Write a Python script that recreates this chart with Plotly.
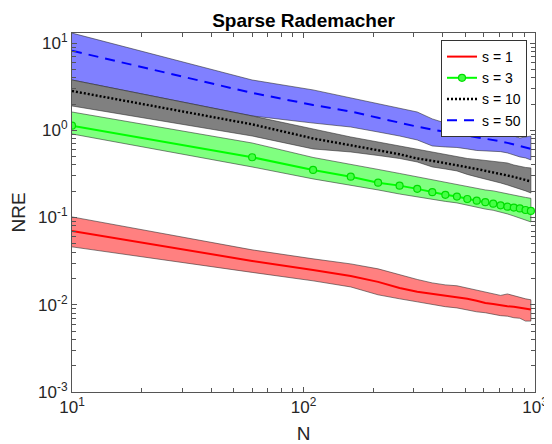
import plotly.graph_objects as go

# ---- data ----
N = [10, 60, 110, 160, 210, 260, 310, 360, 410, 460,
     510, 560, 610, 660, 710, 760, 810, 860, 910, 960]

s1_mean = [0.0702, 0.0318, 0.0251, 0.0214, 0.0183, 0.0156, 0.0141, 0.0133, 0.0127, 0.0123,
           0.0117, 0.0111, 0.0105, 0.0102, 0.0098, 0.0096, 0.0095, 0.0092, 0.0090, 0.0088]
s1_hi = [0.1016, 0.0426, 0.0336, 0.0294, 0.0258, 0.0220, 0.0195, 0.0178, 0.0169, 0.0165,
         0.0156, 0.0148, 0.0141, 0.0133, 0.0128, 0.0133, 0.0127, 0.0120, 0.0117, 0.0114]
s1_lo = [0.0461, 0.0235, 0.0188, 0.0160, 0.0130, 0.0117, 0.0108, 0.0100, 0.0095, 0.0092,
         0.0087, 0.0083, 0.0081, 0.0078, 0.0075, 0.0074, 0.0071, 0.0070, 0.0065, 0.0065]

s3_mean = [1.13, 0.491, 0.351, 0.294, 0.251, 0.232, 0.213, 0.195, 0.182, 0.174,
           0.163, 0.156, 0.150, 0.144, 0.138, 0.133, 0.130, 0.127, 0.122, 0.119]
s3_hi = [1.62, 0.715, 0.488, 0.411, 0.356, 0.320, 0.292, 0.273, 0.256, 0.239,
         0.227, 0.218, 0.207, 0.202, 0.194, 0.184, 0.179, 0.175, 0.170, 0.166]
s3_lo = [0.907, 0.380, 0.277, 0.233, 0.207, 0.186, 0.172, 0.161, 0.153, 0.147,
         0.139, 0.132, 0.125, 0.121, 0.116, 0.110, 0.104, 0.099, 0.094, 0.089]

s10_mean = [2.82, 1.17, 0.806, 0.679, 0.590, 0.531, 0.475, 0.447, 0.422, 0.400,
            0.377, 0.360, 0.345, 0.330, 0.316, 0.303, 0.292, 0.280, 0.271, 0.259]
s10_hi = [3.77, 1.46, 1.035, 0.838, 0.734, 0.661, 0.595, 0.557, 0.521, 0.495,
          0.475, 0.463, 0.451, 0.439, 0.433, 0.422, 0.400, 0.385, 0.375, 0.370]
s10_lo = [1.90, 0.860, 0.611, 0.564, 0.514, 0.475, 0.433, 0.380, 0.360, 0.342,
          0.312, 0.292, 0.277, 0.263, 0.249, 0.236, 0.224, 0.213, 0.202, 0.191]

s50_mean = [8.16, 2.68, 1.95, 1.64, 1.39, 1.21, 1.10, 1.02, 0.964, 0.909,
            0.865, 0.829, 0.799, 0.772, 0.746, 0.717, 0.684, 0.657, 0.635, 0.611]
s50_hi = [13.0, 3.77, 2.90, 2.34, 2.00, 1.80, 1.62, 1.35, 1.21, 1.15,
          1.09, 1.06, 1.02, 0.995, 0.982, 0.944, 0.860, 0.816, 0.838, 0.860]
s50_lo = [3.77, 1.46, 1.21, 1.09, 0.956, 0.860, 0.774, 0.661, 0.644, 0.635,
          0.611, 0.587, 0.579, 0.572, 0.569, 0.550, 0.521, 0.495, 0.482, 0.457]

series_names = ["s = 1", "s = 3", "s = 10", "s = 50"]

x_tickvals = [10, 100, 1000]
x_ticktext = ["10<sup>1</sup>", "10<sup>2</sup>", "10<sup>3</sup>"]
y_tickvals = [0.001, 0.01, 0.1, 1, 10]
y_ticktext = ["10<sup>-3</sup>", "10<sup>-2</sup>", "10<sup>-1</sup>", "10<sup>0</sup>", "10<sup>1</sup>"]

# ---- figure ----
# the page body has an 8px default margin, so the figure is sized to fit the window
FONT = "Liberation Sans, Arial, Helvetica, sans-serif"
W, H = 544, 436
fig = go.Figure()

bands = [
    (s50_hi, s50_lo, "rgb(128,128,255)"),
    (s10_hi, s10_lo, "rgb(128,128,128)"),
    (s3_hi, s3_lo, "rgb(128,255,128)"),
    (s1_hi, s1_lo, "rgb(255,128,128)"),
]
for hi, lo, col in bands:
    fig.add_trace(go.Scatter(
        x=N + N[::-1], y=hi + lo[::-1], mode="lines", fill="toself",
        fillcolor=col, line=dict(color="rgba(40,40,40,0.8)", width=0.7),
        showlegend=False, hoverinfo="skip"))

fig.add_trace(go.Scatter(x=N, y=s1_mean, mode="lines", name=series_names[0],
                         line=dict(color="#ff0000", width=2)))
fig.add_trace(go.Scatter(x=N, y=s3_mean, mode="lines+markers", name=series_names[1],
                         line=dict(color="#00ff00", width=2),
                         marker=dict(symbol="circle", size=7, color="#44ff44",
                                     line=dict(color="#00dd00", width=1.2))))
fig.add_trace(go.Scatter(x=N, y=s10_mean, mode="lines", name=series_names[2],
                         line=dict(color="#000000", width=2.4, dash="2px,2px")))
fig.add_trace(go.Scatter(x=N, y=s50_mean, mode="lines", name=series_names[3],
                         line=dict(color="#0000ff", width=2, dash="10px,7px")))

x_minor = [m * 10 ** e for e in (1, 2) for m in range(2, 10)]
y_minor = [m * 10.0 ** e for e in (-3, -2, -1, 0, 1) for m in range(2, 10)]

axis_common = dict(
    showline=True, linecolor="#555555", linewidth=1, mirror="allticks",
    ticks="inside", ticklen=5, tickcolor="#555555", tickwidth=1,
    showgrid=False, zeroline=False, automargin=False, ticklabeloverflow="allow",
    tickfont=dict(family=FONT, size=17, color="#262626"),
)

fig.update_layout(
    width=W, height=H,
    margin=dict(l=64, r=17, t=25, b=52),
    paper_bgcolor="white", plot_bgcolor="white",
    title=dict(text="<b>Sparse Rademacher</b>", x=0.5, xref="paper", xanchor="center",
               y=1 - 12 / H, yref="container", yanchor="middle",
               font=dict(family=FONT, size=19, color="#000000")),
    xaxis=dict(type="log", range=[1, 3], tickmode="array", tickvals=x_tickvals,
               ticktext=x_ticktext,
               minor=dict(tickmode="array", tickvals=x_minor, ticks="inside", ticklen=4,
                          tickcolor="#555555", showgrid=False),
               title=dict(text="N", font=dict(family=FONT, size=19, color="#262626"),
                          standoff=16),
               **axis_common),
    yaxis=dict(type="log", range=[-3, 1.115], tickmode="array", tickvals=y_tickvals,
               ticktext=y_ticktext,
               minor=dict(tickmode="array", tickvals=y_minor, ticks="inside", ticklen=4,
                          tickcolor="#555555", showgrid=False),
               title=dict(text="NRE", font=dict(family=FONT, size=19, color="#262626"),
                          standoff=9),
               **axis_common),
    legend=dict(x=(441 - 72) / 463, y=(392 - 40) / 359, xanchor="left", yanchor="top",
                bgcolor="white", bordercolor="#333333", borderwidth=1,
                font=dict(family=FONT, size=14, color="#000000"),
                tracegroupgap=0, itemwidth=30),
    showlegend=True,
)

fig.write_html("out.html")
